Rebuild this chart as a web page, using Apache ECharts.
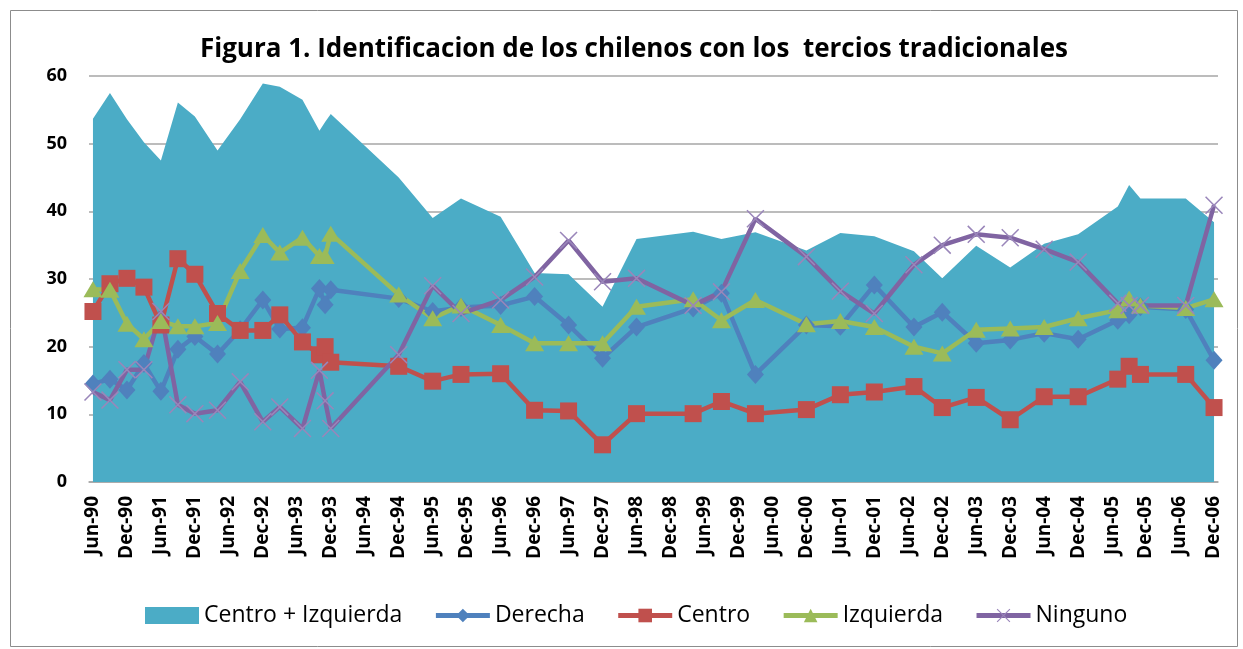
<!DOCTYPE html>
<html>
<head>
<meta charset="utf-8">
<script src="https://cdn.jsdelivr.net/npm/echarts@6/dist/echarts.min.js"></script>
<style>
  html, body { margin: 0; padding: 0; background: #fff; }
  #chart { width: 1243px; height: 649px; }
</style>
</head>
<body>
<div id="chart"></div>
<script>
// survey dates (year-month)
const dates = [
  "1990-06", "1990-09", "1990-12", "1991-03", "1991-06", "1991-09", "1991-12",
  "1992-04", "1992-08", "1992-12", "1993-03", "1993-07", "1993-10", "1993-11",
  "1993-12", "1994-12", "1995-06", "1995-11", "1996-06", "1996-12", "1997-06",
  "1997-12", "1998-06", "1999-04", "1999-09", "2000-03", "2000-12", "2001-06",
  "2001-12", "2002-07", "2002-12", "2003-06", "2003-12", "2004-06", "2004-12",
  "2005-07", "2005-09", "2005-11", "2006-07", "2006-12",
];
const centroIzquierda = [
  53.7, 57.5, 53.6, 50.2, 47.5, 56.1, 54.0, 49.0, 53.6, 58.9, 58.4, 56.5, 51.9, 53.2,
  54.4, 45.0, 39.0, 41.9, 39.2, 30.9, 30.7, 25.9, 35.9, 37.0, 35.9, 36.9, 34.2, 36.8,
  36.3, 34.1, 30.1, 34.9, 31.7, 35.2, 36.6, 40.7, 43.9, 41.9, 41.9, 38.4,
];
const derecha = [
  14.5, 15.2, 13.6, 17.5, 13.4, 19.6, 21.5, 18.9, 22.5, 26.9, 22.6, 22.8, 28.6, 26.2,
  28.4, 27.1, 25.2, 25.8, 26.1, 27.4, 23.2, 18.3, 22.9, 25.7, 27.9, 15.9, 23.2, 23.0,
  29.1, 22.9, 25.1, 20.5, 21.0, 22.0, 21.1, 23.9, 24.7, 25.9, 25.5, 18.0,
];
const centro = [
  25.2, 29.3, 30.1, 28.8, 23.2, 33.0, 30.7, 24.9, 22.4, 22.4, 24.7, 20.7, 18.8, 20.0,
  17.7, 17.1, 14.9, 15.9, 16.0, 10.6, 10.5, 5.5, 10.1, 10.1, 11.9, 10.1, 10.7, 12.9,
  13.3, 14.1, 11.0, 12.5, 9.2, 12.6, 12.6, 15.2, 17.1, 15.9, 15.9, 11.0,
];
const izquierda = [
  28.5, 28.4, 23.4, 21.1, 23.8, 23.0, 23.0, 23.5, 31.2, 36.5, 33.9, 36.1, 33.4, 33.4,
  36.7, 27.7, 24.2, 26.1, 23.2, 20.5, 20.5, 20.5, 25.9, 27.0, 23.9, 26.9, 23.3, 23.8,
  22.9, 20.0, 19.0, 22.5, 22.7, 22.9, 24.2, 25.4, 27.1, 26.1, 25.7, 27.0,
];
const ninguno = [
  13.3, 12.1, 16.6, 16.6, 25.2, 11.4, 10.1, 10.6, 14.8, 8.9, 11.1, 7.9, 16.5, 12.0,
  7.9, 18.8, 29.0, 24.9, 26.9, 30.3, 35.7, 29.6, 30.1, 26.1, 28.1, 38.9, 33.3, 28.2,
  24.9, 32.1, 35.0, 36.6, 36.1, 34.4, 32.5, 26.4, 26.1, 26.1, 26.1, 40.9,
];
const tickLabels = [
  "Jun-90", "Dec-90", "Jun-91", "Dec-91", "Jun-92", "Dec-92", "Jun-93", "Dec-93",
  "Jun-94", "Dec-94", "Jun-95", "Dec-95", "Jun-96", "Dec-96", "Jun-97", "Dec-97",
  "Jun-98", "Dec-98", "Jun-99", "Dec-99", "Jun-00", "Dec-00", "Jun-01", "Dec-01",
  "Jun-02", "Dec-02", "Jun-03", "Dec-03", "Jun-04", "Dec-04", "Jun-05", "Dec-05",
  "Jun-06", "Dec-06",
];

// months since Jun-90
const monthOf = (s) => {
  const [y, m] = s.split("-").map(Number);
  return (y - 1990) * 12 + (m - 6);
};
const xs = dates.map(monthOf);
const pair = (vals) => vals.map((v, i) => [xs[i], v]);
const tickMonths = tickLabels.map((_, i) => i * 6);

const FONT = "Open Sans";
const xMark = "path://M0,0.6L0.6,0L10,9.4L9.4,10Z M9.4,0L10,0.6L0.6,10L0,9.4Z";

const chart = echarts.init(document.getElementById("chart"));
chart.setOption({
  animation: false,
  textStyle: { fontFamily: FONT },
  title: {
    text: "Figura 1. Identificacion de los chilenos con los  tercios tradicionales",
    left: 629,
    textAlign: "center",
    top: 32,
    textStyle: { fontFamily: FONT, fontSize: 26, fontWeight: "bold", color: "#000" },
  },
  graphic: [
    {
      type: "rect",
      left: 8,
      top: 8,
      shape: { width: 1227, height: 636 },
      style: { fill: "none", stroke: "#8c8c8c", lineWidth: 1 },
      silent: true,
    },
  ],
  grid: { left: 89, right: 25, top: 76, bottom: 167 },
  legend: {
    bottom: 17,
    left: 140,
    itemWidth: 54,
    itemHeight: 17,
    itemGap: 31,
    lineStyle: { width: 5 },
    textStyle: { fontFamily: FONT, fontSize: 23, color: "#000" },
    data: [
      { name: "Centro + Izquierda", icon: "rect" },
      "Derecha",
      "Centro",
      "Izquierda",
      "Ninguno",
    ],
  },
  xAxis: {
    type: "value",
    min: -0.7,
    max: 198.7,
    splitLine: { show: false },
    axisLine: { show: true, lineStyle: { color: "#a6a6a6", width: 1.5 } },
    axisTick: { show: false },
    axisLabel: {
      customValues: tickMonths,
      rotate: 90,
      margin: 14,
      fontFamily: FONT,
      fontSize: 19,
      fontWeight: "bold",
      color: "#000",
      formatter: (v) => tickLabels[Math.round(v / 6)],
    },
  },
  yAxis: {
    type: "value",
    min: 0,
    max: 60,
    interval: 10,
    axisLine: { show: false },
    axisTick: { show: false },
    splitLine: { lineStyle: { color: "#a6a6a6", width: 1.5 } },
    axisLabel: {
      margin: 22,
      fontFamily: FONT,
      fontSize: 18,
      fontWeight: "bold",
      color: "#000",
    },
  },
  series: [
    {
      name: "Centro + Izquierda",
      type: "line",
      data: pair(centroIzquierda),
      symbol: "none",
      lineStyle: { width: 0 },
      itemStyle: { color: "#4BACC6" },
      areaStyle: { color: "#4BACC6", opacity: 1 },
    },
    {
      name: "Derecha",
      type: "line",
      data: pair(derecha),
      symbol: "diamond",
      symbolSize: [17, 19],
      lineStyle: { width: 4.5, color: "#4F81BD" },
      itemStyle: { color: "#4F81BD" },
    },
    {
      name: "Centro",
      type: "line",
      data: pair(centro),
      symbol: "rect",
      symbolSize: 17,
      lineStyle: { width: 4.5, color: "#C0504D" },
      itemStyle: { color: "#C0504D" },
    },
    {
      name: "Izquierda",
      type: "line",
      data: pair(izquierda),
      symbol: "triangle",
      symbolSize: [19, 16],
      lineStyle: { width: 4.5, color: "#9BBB59" },
      itemStyle: { color: "#9BBB59" },
    },
    {
      name: "Ninguno",
      type: "line",
      data: pair(ninguno),
      symbol: xMark,
      symbolSize: 18,
      lineStyle: { width: 4.5, color: "#8064A2" },
      itemStyle: { color: "#9A86BA" },
    },
  ],
});
</script>
</body>
</html>
